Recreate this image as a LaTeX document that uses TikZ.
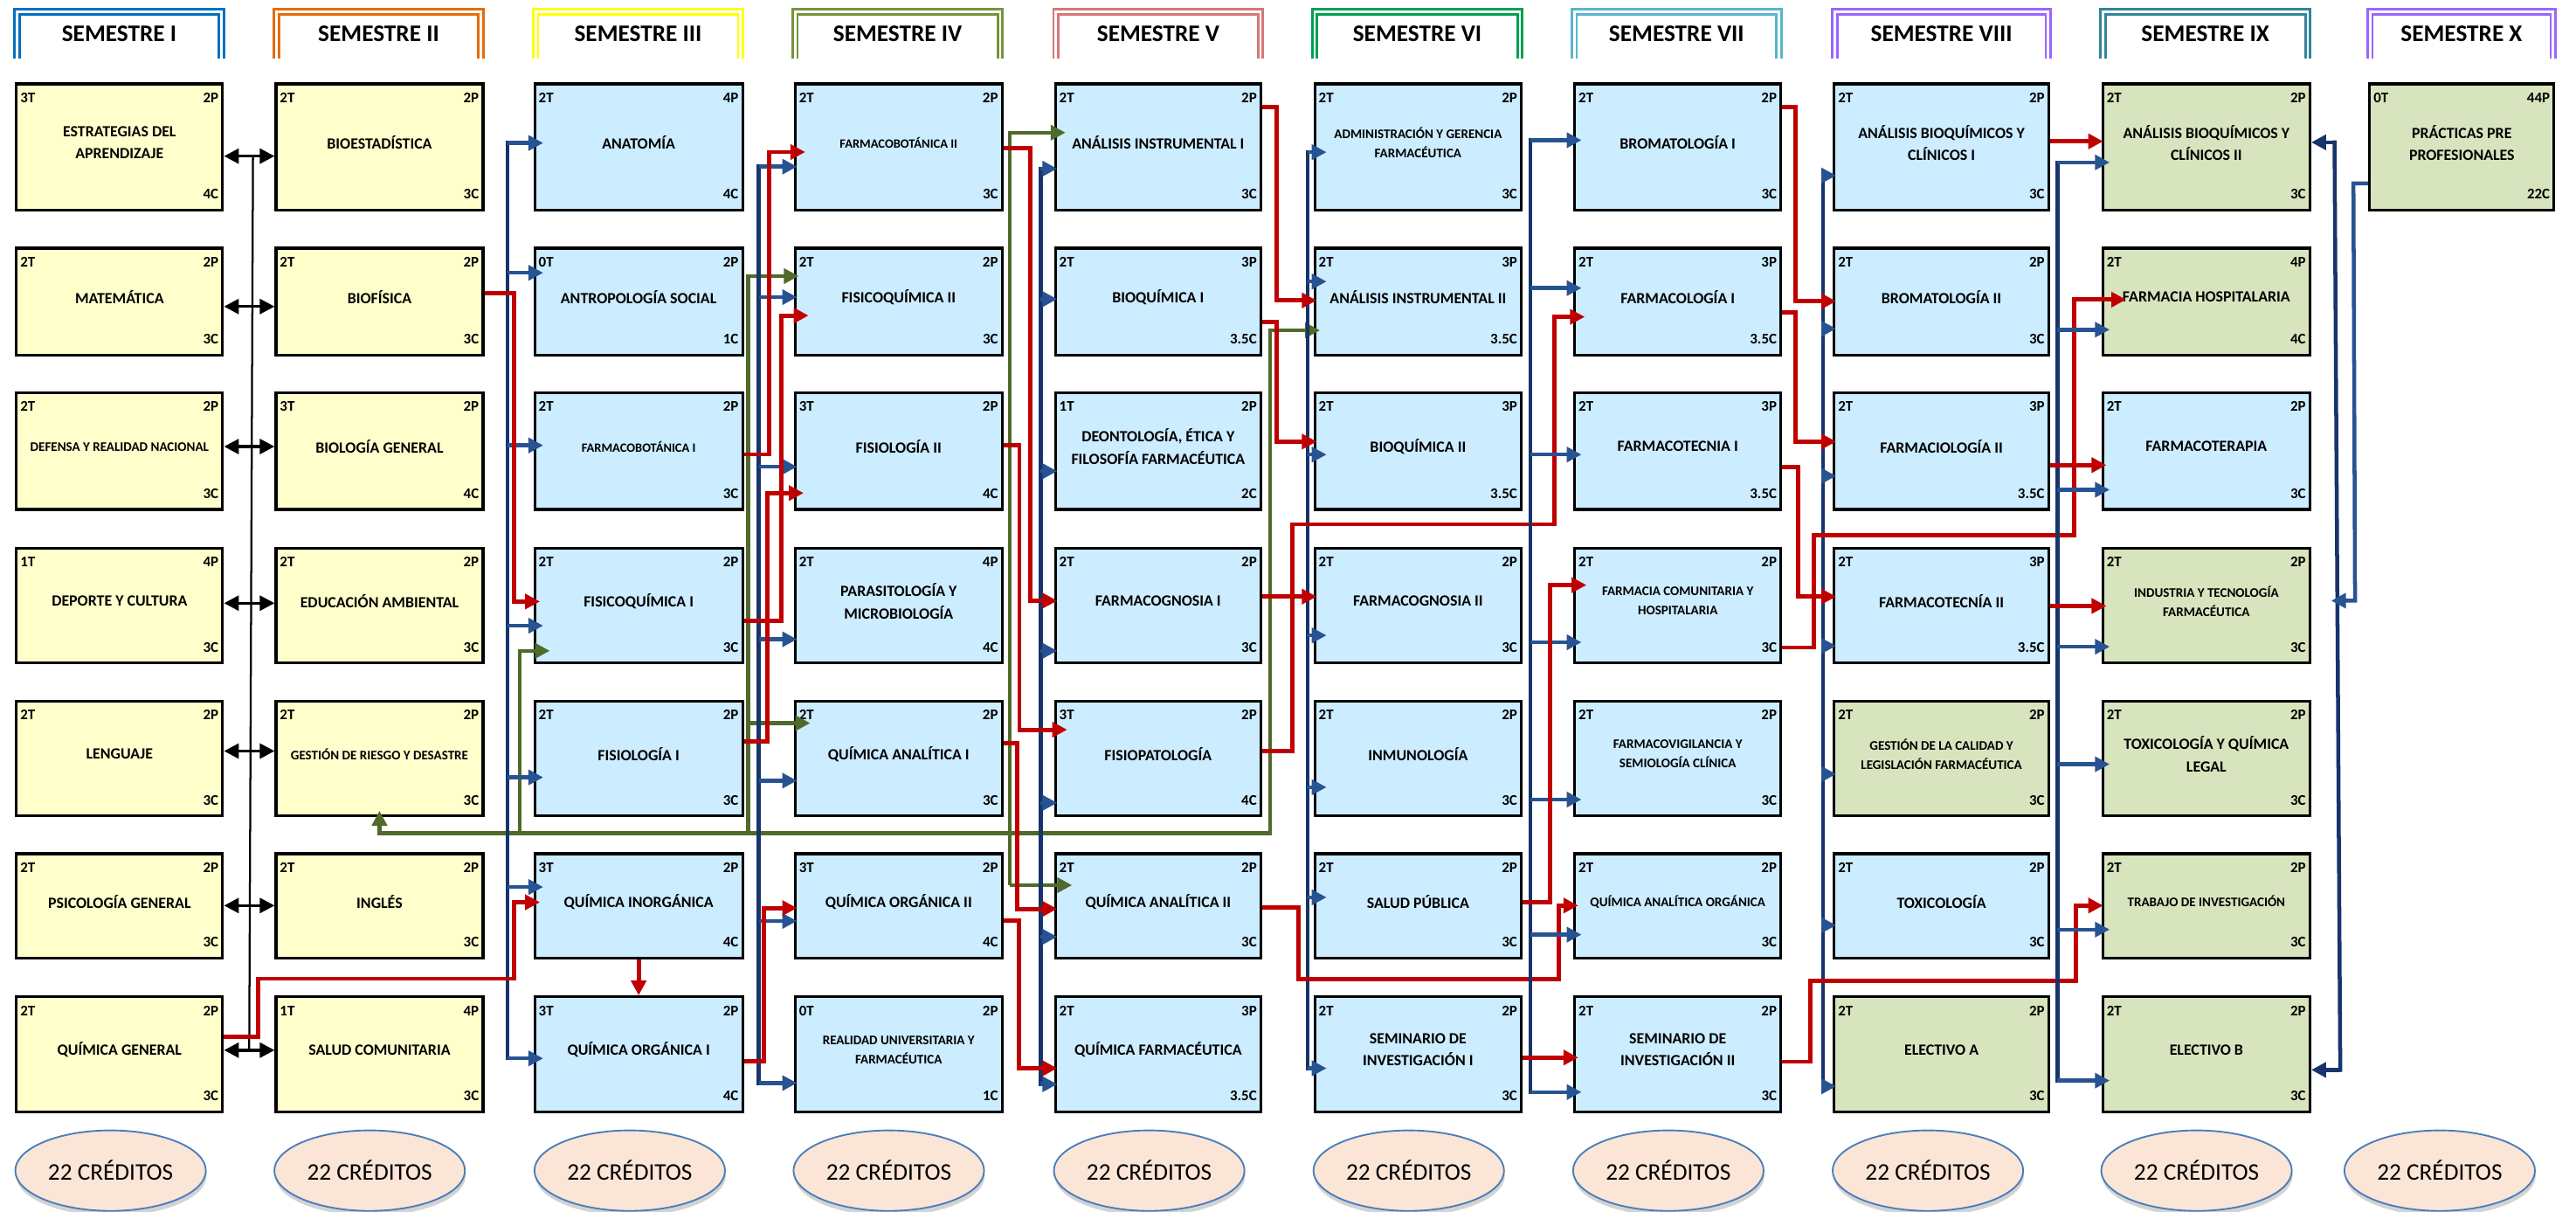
\documentclass[tikz,border=0pt]{standalone}
\usepackage{fontspec}
\setmainfont{Carlito}
\usetikzlibrary{arrows.meta,shapes.geometric,fit,calc,shadows}
\definecolor{cyel}{HTML}{FFFFCC}
\definecolor{cblu}{HTML}{CCECFF}
\definecolor{cgrn}{HTML}{D7E4BD}
\definecolor{lred}{HTML}{C00000}
\definecolor{lnav}{HTML}{17346C}
\definecolor{larr}{HTML}{285392}
\definecolor{lgrn}{HTML}{4F6A2A}
\definecolor{epeach}{HTML}{FBE5D6}
\definecolor{eblue}{HTML}{4A7EBB}
\definecolor{hA}{HTML}{0070C0}
\definecolor{hB}{HTML}{E46C0A}
\definecolor{hC}{HTML}{FFFF00}
\definecolor{hD}{HTML}{77933C}
\definecolor{hE}{HTML}{D47878}
\definecolor{hF}{HTML}{00A050}
\definecolor{hG}{HTML}{5BB5CC}
\definecolor{hH}{HTML}{9966FF}
\definecolor{hI}{HTML}{31849B}
\definecolor{hJ}{HTML}{9966FF}

\newcommand\setcol[3]{\expandafter\def\csname colL#1\endcsname{#2}\expandafter\def\csname colR#1\endcsname{#3}}
\newcommand\setrow[3]{\expandafter\def\csname rowT#1\endcsname{#2}\expandafter\def\csname rowB#1\endcsname{#3}}
\setcol{1}{10}{135.5}
\setcol{2}{168}{294}
\setcol{3}{325.5}{452}
\setcol{4}{484}{610}
\setcol{5}{642.4}{767.5}
\setcol{6}{800.3}{926}
\setcol{7}{958.5}{1084}
\setcol{8}{1116.5}{1247}
\setcol{9}{1280}{1406}
\setcol{10}{1442.4}{1554.6}
\setrow{1}{51}{128}
\setrow{2}{151}{216}
\setrow{3}{239}{310}
\setrow{4}{333.5}{403.5}
\setrow{5}{426.5}{496.5}
\setrow{6}{519.5}{583}
\setrow{7}{606.5}{676.5}

\tikzset{
  >={Triangle[length=9pt,width=9pt]},
  cbox/.style={draw=black, line width=1.7pt, inner sep=0pt, rectangle},
  ttl/.style={align=center, inner sep=0pt, font=\bfseries\fontsize{9.5}{13.5}\selectfont},
  tsmall/.style={font=\bfseries\fontsize{8}{11.8}\selectfont},
  tsmaller/.style={font=\bfseries\fontsize{7.7}{11.5}\selectfont},
  lab/.style={inner sep=0pt, font=\bfseries\fontsize{9}{10}\selectfont},
  rarr/.style={draw=lred, line width=2.6pt, ->},
  barr/.style={draw=larr, line width=2.4pt, ->},
  bline/.style={draw=lnav, line width=2.4pt, line cap=rect},
  garr/.style={draw=lgrn, line width=2.4pt, ->},
  gline/.style={draw=lgrn, line width=2.4pt, line cap=rect},
  karr/.style={draw=black, line width=1.8pt, <->},
  tin/.style={shorten >=-#1},
  hdr/.style={font=\bfseries\fontsize{14.5}{16}\selectfont, inner sep=0pt},
  cred/.style={ellipse, draw=eblue, fill=epeach, line width=1pt, minimum width=116pt,
    minimum height=49pt, inner sep=0pt, font=\fontsize{14.5}{16}\selectfont,
    drop shadow={shadow xshift=0.5pt, shadow yshift=-3pt, opacity=0.35}},
}

\newcommand\course[9][]{%
  \edef\xa{\csname colL#3\endcsname}\edef\xb{\csname colR#3\endcsname}%
  \edef\ya{\csname rowT#4\endcsname}\edef\yb{\csname rowB#4\endcsname}%
  \node[cbox, fill=#5, fit={(\xa,\ya) (\xb,\yb)}] (#2) {};
  \node[ttl,#1] (#2-n) at ($(#2.center)+(0,-2.7)$) {#9};
  \node[lab, anchor=base west] (#2-t) at (\xa+2.2,\ya+11.4) {#6};
  \node[lab, anchor=base east] (#2-p) at (\xb-2.3,\ya+11.4) {#7};
  \node[lab, anchor=base east] (#2-c) at (\xb-2.3,\yb-6.8) {#8};
}
\newcommand\semhdr[5]{%
  \draw[#4, line width=1.5pt, double=white, double distance=1.5pt]
    (#2+2.25,35.5) -- (#2+2.25,7.25) -- (#3-2.25,7.25) -- (#3-2.25,35.5);
  \node[hdr] (#1) at ({(#2+#3)/2},20.3) {#5};
}

\begin{document}
\begin{tikzpicture}[x=1pt,y=-1pt]
\useasboundingbox (0,0) rectangle (1568,737);

% headers
\semhdr{h1}{8.1}{137}{hA}{SEMESTRE I}
\semhdr{h2}{166}{295}{hB}{SEMESTRE II}
\semhdr{h3}{323.8}{453}{hC}{SEMESTRE III}
\semhdr{h4}{481.7}{611}{hD}{SEMESTRE IV}
\semhdr{h5}{640.5}{769.5}{hE}{SEMESTRE V}
\semhdr{h6}{798}{927.4}{hF}{SEMESTRE VI}
\semhdr{h7}{956}{1085}{hG}{SEMESTRE VII}
\semhdr{h8}{1114.5}{1249}{hH}{SEMESTRE VIII}
\semhdr{h9}{1277.7}{1407}{hI}{SEMESTRE IX}
\semhdr{h10}{1440.3}{1556.3}{hJ}{SEMESTRE X}

% semester I
\course{A1}{1}{1}{cyel}{3T}{2P}{4C}{ESTRATEGIAS DEL\\APRENDIZAJE}
\course{A2}{1}{2}{cyel}{2T}{2P}{3C}{MATEMÁTICA}
\course[tsmall]{A3}{1}{3}{cyel}{2T}{2P}{3C}{DEFENSA Y REALIDAD NACIONAL}
\course{A4}{1}{4}{cyel}{1T}{4P}{3C}{DEPORTE Y CULTURA}
\course{A5}{1}{5}{cyel}{2T}{2P}{3C}{LENGUAJE}
\course{A6}{1}{6}{cyel}{2T}{2P}{3C}{PSICOLOGÍA GENERAL}
\course{A7}{1}{7}{cyel}{2T}{2P}{3C}{QUÍMICA GENERAL}
% semester II
\course{B1}{2}{1}{cyel}{2T}{2P}{3C}{BIOESTADÍSTICA}
\course{B2}{2}{2}{cyel}{2T}{2P}{3C}{BIOFÍSICA}
\course{B3}{2}{3}{cyel}{3T}{2P}{4C}{BIOLOGÍA GENERAL}
\course{B4}{2}{4}{cyel}{2T}{2P}{3C}{EDUCACIÓN AMBIENTAL}
\course[tsmall]{B5}{2}{5}{cyel}{2T}{2P}{3C}{GESTIÓN DE RIESGO Y DESASTRE}
\course{B6}{2}{6}{cyel}{2T}{2P}{3C}{INGLÉS}
\course{B7}{2}{7}{cyel}{1T}{4P}{3C}{SALUD COMUNITARIA}
% semester III
\course{C1}{3}{1}{cblu}{2T}{4P}{4C}{ANATOMÍA}
\course{C2}{3}{2}{cblu}{0T}{2P}{1C}{ANTROPOLOGÍA SOCIAL}
\course[tsmaller]{C3}{3}{3}{cblu}{2T}{2P}{3C}{FARMACOBOTÁNICA I}
\course{C4}{3}{4}{cblu}{2T}{2P}{3C}{FISICOQUÍMICA I}
\course{C5}{3}{5}{cblu}{2T}{2P}{3C}{FISIOLOGÍA I}
\course{C6}{3}{6}{cblu}{3T}{2P}{4C}{QUÍMICA INORGÁNICA}
\course{C7}{3}{7}{cblu}{3T}{2P}{4C}{QUÍMICA ORGÁNICA I}
% semester IV
\course[tsmaller]{D1}{4}{1}{cblu}{2T}{2P}{3C}{FARMACOBOTÁNICA II}
\course{D2}{4}{2}{cblu}{2T}{2P}{3C}{FISICOQUÍMICA II}
\course{D3}{4}{3}{cblu}{3T}{2P}{4C}{FISIOLOGÍA II}
\course{D4}{4}{4}{cblu}{2T}{4P}{4C}{PARASITOLOGÍA Y\\MICROBIOLOGÍA}
\course{D5}{4}{5}{cblu}{2T}{2P}{3C}{QUÍMICA ANALÍTICA I}
\course{D6}{4}{6}{cblu}{3T}{2P}{4C}{QUÍMICA ORGÁNICA II}
\course[tsmall]{D7}{4}{7}{cblu}{0T}{2P}{1C}{REALIDAD UNIVERSITARIA Y\\FARMACÉUTICA}
% semester V
\course{E1}{5}{1}{cblu}{2T}{2P}{3C}{ANÁLISIS INSTRUMENTAL I}
\course{E2}{5}{2}{cblu}{2T}{3P}{3.5C}{BIOQUÍMICA I}
\course{E3}{5}{3}{cblu}{1T}{2P}{2C}{DEONTOLOGÍA, ÉTICA Y\\FILOSOFÍA FARMACÉUTICA}
\course{E4}{5}{4}{cblu}{2T}{2P}{3C}{FARMACOGNOSIA I}
\course{E5}{5}{5}{cblu}{3T}{2P}{4C}{FISIOPATOLOGÍA}
\course{E6}{5}{6}{cblu}{2T}{2P}{3C}{QUÍMICA ANALÍTICA II}
\course{E7}{5}{7}{cblu}{2T}{3P}{3.5C}{QUÍMICA FARMACÉUTICA}
% semester VI
\course[tsmall]{F1}{6}{1}{cblu}{2T}{2P}{3C}{ADMINISTRACIÓN Y GERENCIA\\FARMACÉUTICA}
\course{F2}{6}{2}{cblu}{2T}{3P}{3.5C}{ANÁLISIS INSTRUMENTAL II}
\course{F3}{6}{3}{cblu}{2T}{3P}{3.5C}{BIOQUÍMICA II}
\course{F4}{6}{4}{cblu}{2T}{2P}{3C}{FARMACOGNOSIA II}
\course{F5}{6}{5}{cblu}{2T}{2P}{3C}{INMUNOLOGÍA}
\course{F6}{6}{6}{cblu}{2T}{2P}{3C}{SALUD PÚBLICA}
\course{F7}{6}{7}{cblu}{2T}{2P}{3C}{SEMINARIO DE\\INVESTIGACIÓN I}
% semester VII
\course{G1}{7}{1}{cblu}{2T}{2P}{3C}{BROMATOLOGÍA I}
\course{G2}{7}{2}{cblu}{2T}{3P}{3.5C}{FARMACOLOGÍA I}
\course{G3}{7}{3}{cblu}{2T}{3P}{3.5C}{FARMACOTECNIA I}
\course[tsmall]{G4}{7}{4}{cblu}{2T}{2P}{3C}{FARMACIA COMUNITARIA Y\\HOSPITALARIA}
\course[tsmall]{G5}{7}{5}{cblu}{2T}{2P}{3C}{FARMACOVIGILANCIA Y\\SEMIOLOGÍA CLÍNICA}
\course[tsmall]{G6}{7}{6}{cblu}{2T}{2P}{3C}{QUÍMICA ANALÍTICA ORGÁNICA}
\course{G7}{7}{7}{cblu}{2T}{2P}{3C}{SEMINARIO DE\\INVESTIGACIÓN II}
% semester VIII
\course{H1}{8}{1}{cblu}{2T}{2P}{3C}{ANÁLISIS BIOQUÍMICOS Y\\CLÍNICOS I}
\course{H2}{8}{2}{cblu}{2T}{2P}{3C}{BROMATOLOGÍA II}
\course{H3}{8}{3}{cblu}{2T}{3P}{3.5C}{FARMACIOLOGÍA II}
\course{H4}{8}{4}{cblu}{2T}{3P}{3.5C}{FARMACOTECNÍA II}
\course[tsmall]{H5}{8}{5}{cgrn}{2T}{2P}{3C}{GESTIÓN DE LA CALIDAD Y\\LEGISLACIÓN FARMACÉUTICA}
\course{H6}{8}{6}{cblu}{2T}{2P}{3C}{TOXICOLOGÍA}
\course{H7}{8}{7}{cgrn}{2T}{2P}{3C}{ELECTIVO A}
% semester IX
\course{I1}{9}{1}{cgrn}{2T}{2P}{3C}{ANÁLISIS BIOQUÍMICOS Y\\CLÍNICOS II}
\course{I2}{9}{2}{cgrn}{2T}{4P}{4C}{FARMACIA HOSPITALARIA}
\course{I3}{9}{3}{cblu}{2T}{2P}{3C}{FARMACOTERAPIA}
\course[tsmall]{I4}{9}{4}{cgrn}{2T}{2P}{3C}{INDUSTRIA Y TECNOLOGÍA\\FARMACÉUTICA}
\course{I5}{9}{5}{cgrn}{2T}{2P}{3C}{TOXICOLOGÍA Y QUÍMICA\\LEGAL}
\course[tsmall]{I6}{9}{6}{cgrn}{2T}{2P}{3C}{TRABAJO DE INVESTIGACIÓN}
\course{I7}{9}{7}{cgrn}{2T}{2P}{3C}{ELECTIVO B}
% semester X
\course{J1}{10}{1}{cgrn}{0T}{44P}{22C}{PRÁCTICAS PRE\\PROFESIONALES}

% credits
\node[cred] (e1) at (67.3,712.3) {22 CRÉDITOS};
\node[cred] (e2) at (225,712.3) {22 CRÉDITOS};
\node[cred] (e3) at (383.3,712.3) {22 CRÉDITOS};
\node[cred] (e4) at (541,712.3) {22 CRÉDITOS};
\node[cred] (e5) at (699.5,712.3) {22 CRÉDITOS};
\node[cred] (e6) at (857.5,712.3) {22 CRÉDITOS};
\node[cred] (e7) at (1015.5,712.3) {22 CRÉDITOS};
\node[cred] (e8) at (1173.5,712.3) {22 CRÉDITOS};
\node[cred] (e9) at (1337,712.3) {22 CRÉDITOS};
\node[cred] (e10) at (1485,712.3) {22 CRÉDITOS};

% ---- gap I-II
\draw[line width=1.2pt] (154,95) -- (151.7,639);
\foreach \r/\yy in {1/95,2/186.5,3/271.7,4/367,5/457,6/551,7/639}
  \draw[karr] (A\r.east |- 0,\yy) -- (B\r.west |- 0,\yy);

% ---- green network
\draw[gline] (773,507) -- (231,507);
\draw[garr,tin=4pt] (231,507) -- (B5.south -| 231,0);
\draw[garr,tin=10pt] (316.4,507) |- (C4.west |- 0,396);
\draw[gline] (455.5,507) -- (455.5,168);
\draw[garr,tin=3pt] (455.5,168) -- (D2.west |- 0,168);
\draw[garr,tin=10pt] (455.5,440) -- (D5.west |- 0,440);
\draw[garr,tin=7pt] (614.7,538.6) |- (E1.west |- 0,80.7);
\draw[garr,tin=11pt] (614.7,538.6) -- (E6.west |- 0,538.6);
\draw[garr,tin=4pt] (773,507) |- (F2.west |- 0,201);

% ---- gap II-III
\draw[bline] (308.8,87) -- (308.8,644);
\foreach \r/\yy in {1/87,2/166,3/271,4/380.7,5/473,6/539.7,7/644}
  \draw[barr,tin=6pt] (308.8,\yy) -- (C\r.west |- 0,\yy);
\draw[rarr,tin=4pt] (B2.east |- 0,178.5) -| (312.8,366) -- (C4.west |- 0,366);
\draw[rarr,tin=4pt] (A7.east |- 0,631) -- (157,631) |- (312.8,595.5) |- (C6.west |- 0,549);
\draw[rarr] (C6.south) -- (C7.north);

% ---- gap III-IV
\draw[bline] (461.8,101.4) -- (461.8,659);
\foreach \r/\yy in {1/101.4,2/180.8,3/284,4/389,5/475,6/560.4,7/659}
  \draw[barr,tin=2pt] (461.8,\yy) -- (D\r.west |- 0,\yy);
\draw[rarr,tin=7pt] (C3.east |- 0,276.5) -| (468,92.5) -- (D1.west |- 0,92.5);
\draw[rarr,tin=9pt] (C4.east |- 0,378) -| (475.5,192) -- (D2.west |- 0,192);
\draw[rarr,tin=6pt] (C5.east |- 0,451) -| (467,300) -- (D3.west |- 0,300);
\draw[rarr,tin=2pt] (C7.east |- 0,645.6) -| (465,552.5) -- (D6.west |- 0,552.5);

% ---- gap IV-V
\draw[bline] (633.5,102.6) -- (633.5,659.7);
\foreach \r/\yy in {1/102.6,2/182,3/286.7,4/396,5/488.5,6/570,7/659.7}
  \draw[barr,tin=2pt] (633.5,\yy) -- (E\r.west |- 0,\yy);
\draw[rarr,tin=2pt] (D1.east |- 0,90) -| (627,365.5) -- (E4.west |- 0,365.5);
\draw[rarr,tin=8pt] (D3.east |- 0,270.7) -| (620.5,444) -- (E5.west |- 0,444);
\draw[rarr,tin=2pt] (D5.east |- 0,452) -| (619,553) -- (E6.west |- 0,553);
\draw[rarr,tin=2pt] (D6.east |- 0,560) -| (620,650) -- (E7.west |- 0,650);

% ---- gap V-VI
\draw[bline] (796,92.6) -- (796,650);
\foreach \r/\yy in {1/92.6,2/171.3,3/276.6,4/386.6,5/479,6/546,7/650}
  \draw[barr,tin=8pt] (796,\yy) -- (F\r.west |- 0,\yy);
\draw[rarr,tin=2pt] (E1.east |- 0,65.3) -| (777,182.8) -- (F2.west |- 0,182.8);
\draw[rarr,tin=2pt] (E2.east |- 0,195.8) -| (777,268.7) -- (F3.west |- 0,268.7);
\draw[rarr,tin=2pt] (E4.east |- 0,363) -- (F4.west |- 0,363);
\draw[rarr,tin=7pt] (E5.east |- 0,457) -| (786.5,319) -| (946,192.8) -- (G2.west |- 0,192.8);
\draw[rarr,tin=3pt] (E6.east |- 0,552) -| (790.6,596) -| (949,551) -- (G6.west |- 0,551);

% ---- gap VI-VII
\draw[bline] (931.5,85.3) -- (931.5,664.5);
\foreach \r/\yy in {1/85.3,2/175.3,3/276.6,4/390.8,5/486.5,6/568.7,7/664.5}
  \draw[barr,tin=5pt] (931.5,\yy) -- (G\r.west |- 0,\yy);
\draw[rarr,tin=8pt] (F6.east |- 0,548.8) -| (943.5,356) -- (G4.west |- 0,356);
\draw[rarr,tin=3pt] (F7.east |- 0,643.5) -- (G7.west |- 0,643.5);

% ---- gap VII-VIII
\draw[bline] (1109.6,106.8) -- (1109.6,661);
\foreach \r/\yy in {1/106.8,2/200,3/289.6,4/393,5/471,6/563,7/661}
  \draw[barr,tin=2pt] (1109.6,\yy) -- (H\r.west |- 0,\yy);
\draw[rarr,tin=2pt] (G1.east |- 0,65.3) -| (1092.7,183.3) -- (H2.west |- 0,183.3);
\draw[rarr,tin=2pt] (G2.east |- 0,190) -| (1092.7,268.7) -- (H3.west |- 0,268.7);
\draw[rarr,tin=2pt] (G3.east |- 0,284) -| (1094.5,363) -- (H4.west |- 0,363);
\draw[rarr,tin=15pt] (G4.east |- 0,394) -| (1104,325.7) -| (1262.7,182.3) -- (I2.west |- 0,182.3);
\draw[rarr,tin=1pt] (G7.east |- 0,646) -| (1102,596.6) -| (1263.7,551) -- (I6.west |- 0,551);

% ---- gap VIII-IX
\draw[bline] (1252.3,98.8) -- (1252.3,657.5);
\foreach \r/\yy in {1/98.8,2/200.6,3/298,4/393.5,5/465,6/565.6,7/657.5}
  \draw[barr,tin=5pt] (1252.3,\yy) -- (I\r.west |- 0,\yy);
\draw[rarr,tin=1pt] (H1.east |- 0,86) -- (I1.west |- 0,86);
\draw[rarr,tin=3pt] (H3.east |- 0,283) -- (I3.west |- 0,283);
\draw[rarr,tin=3pt] (H4.east |- 0,368.7) -- (I4.west |- 0,368.7);

% ---- gap IX-X
\coordinate (busj) at (1419,365.5);
\draw[bline] (1421,86.6) -- (1424.5,651);
\draw[barr,draw=lnav] (1421,86.6) -- (I1.east |- 0,86.6);
\draw[barr,draw=lnav] (1424.5,651) -- (I7.east |- 0,651);
\draw[barr] (J1.west |- 0,111.6) -- (1432.5,111.6) -- (1433.5,365.5) -- (busj);
\end{tikzpicture}
\end{document}
